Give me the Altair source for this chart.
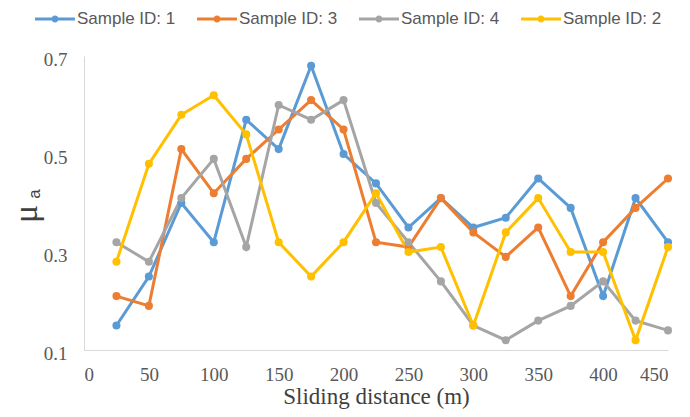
import altair as alt
import pandas as pd

distance = [25, 50, 75, 100, 125, 150, 175, 200, 225, 250, 275, 300, 325, 350, 375, 400, 425, 450]
series_names = ["Sample ID: 1", "Sample ID: 3", "Sample ID: 4", "Sample ID: 2"]
s1 = [0.15, 0.25, 0.40, 0.32, 0.57, 0.51, 0.68, 0.50, 0.44, 0.35, 0.41, 0.35, 0.37, 0.45, 0.39, 0.21, 0.41, 0.32]
s3 = [0.21, 0.19, 0.51, 0.42, 0.49, 0.55, 0.61, 0.55, 0.32, 0.31, 0.41, 0.34, 0.29, 0.35, 0.21, 0.32, 0.39, 0.45]
s4 = [0.32, 0.28, 0.41, 0.49, 0.31, 0.60, 0.57, 0.61, 0.40, 0.32, 0.24, 0.15, 0.12, 0.16, 0.19, 0.24, 0.16, 0.14]
s2 = [0.28, 0.48, 0.58, 0.62, 0.54, 0.32, 0.25, 0.32, 0.42, 0.30, 0.31, 0.15, 0.34, 0.41, 0.30, 0.30, 0.12, 0.31]
colors = ["#5B9BD5", "#ED7D31", "#A5A5A5", "#FFC000"]
x_ticks = [0, 50, 100, 150, 200, 250, 300, 350, 400, 450]
y_ticks = [0.1, 0.3, 0.5, 0.7]

rows = []
for name, vals in zip(series_names, [s1, s3, s4, s2]):
    for d, v in zip(distance, vals):
        rows.append({"distance": d, "mu": v, "series": name})
df = pd.DataFrame(rows)

W, H = 584, 294

legend_path = ("M-1,-0.075L1,-0.075L1,0.075L-1,0.075Z "
               "M-0.175,0A0.175,0.175 0 1,1 0.175,0A0.175,0.175 0 1,1 -0.175,0Z")

legend = alt.Legend(
    title=None, orient="none", legendX=-49, legendY=-57, direction="horizontal",
    columns=4, columnPadding=21, symbolType=legend_path, symbolSize=1600,
    symbolStrokeWidth=0, labelOffset=2, labelFont="Liberation Sans", labelFontSize=17,
    labelColor="#595959", labelLimit=200,
)

color = alt.Color("series:N", scale=alt.Scale(domain=series_names, range=colors), legend=legend)

xenc = alt.X("distance:Q", scale=alt.Scale(domain=[0, 450], nice=False),
             axis=alt.Axis(values=x_ticks, title="Sliding distance (m)", grid=False, ticks=False,
                           domainColor="#D9D9D9", labelFont="Liberation Serif", labelFontSize=19,
                           labelColor="#595959", labelPadding=15, titleFont="Liberation Serif",
                           titleFontSize=23, titleFontWeight="normal", titleColor="#404040",
                           titleBaseline="top", titleY=35))
yenc = alt.Y("mu:Q", scale=alt.Scale(domain=[0.1, 0.7], nice=False, zero=False),
             axis=alt.Axis(values=y_ticks, format=".1f", title=None, grid=False, ticks=False,
                           domainColor="#D9D9D9", labelFont="Liberation Serif", labelFontSize=19,
                           labelColor="#595959", labelPadding=17, labelOffset=3))

lines = alt.Chart(df).mark_line(strokeWidth=3).encode(x=xenc, y=yenc, color=color)
points = alt.Chart(df).mark_point(filled=True, size=65, opacity=1, shape="circle").encode(
    x="distance:Q", y="mu:Q", color=color)

mu = alt.Chart(pd.DataFrame({"t": ["μ"]})).mark_text(
    font="Liberation Serif", fontSize=34, angle=270, align="center", baseline="middle",
    color="#404040").encode(text="t:N", x=alt.value(-57), y=alt.value(158))
sub = alt.Chart(pd.DataFrame({"t": ["a"]})).mark_text(
    font="Liberation Sans", fontSize=17, angle=270, align="center", baseline="middle",
    color="#404040").encode(text="t:N", x=alt.value(-49), y=alt.value(138))

chart = alt.layer(lines, points, mu, sub).properties(
    width=W, height=H,
    autosize=alt.AutoSizeParams(type="none"),
    padding={"left": 76, "top": 48, "right": 14, "bottom": 59},
).configure_view(stroke=None)

chart.save("out.html", embed_options={"renderer": "svg", "actions": False})
